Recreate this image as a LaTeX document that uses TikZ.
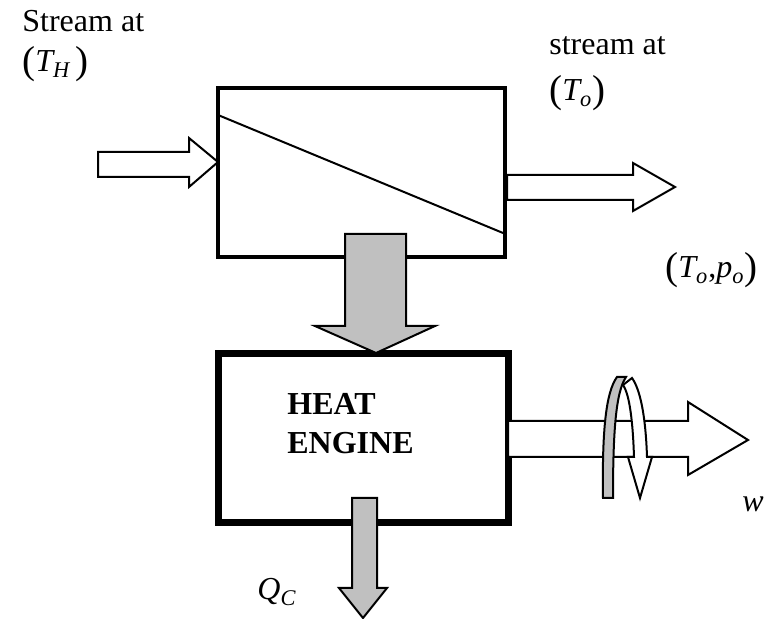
\documentclass[tikz,border=0pt]{standalone}
\usepackage{fontspec}
\setmainfont{Liberation Serif}
\usetikzlibrary{positioning}

\definecolor{heatgray}{RGB}{192,192,192}
\newcommand{\lpar}{{\fontsize{19.5}{19.5}\selectfont\raisebox{-0.6pt}{(}}}
\newcommand{\rpar}{{\fontsize{19.5}{19.5}\selectfont\raisebox{-0.6pt}{)}}}

\begin{document}
\begin{tikzpicture}[x=0.5pt, y=-0.5pt, font=\fontsize{16}{19.5}\selectfont,
 unit/.style={draw, line width=2pt, minimum width=143.5pt, minimum height=84.5pt, inner sep=0pt},
 engine/.style={draw, line width=3.5pt, minimum width=145pt, minimum height=84.5pt, inner sep=0pt},
 flow/.style={draw, line width=1pt, fill=white, line join=miter},
 heat/.style={draw, line width=1pt, fill=heatgray, line join=miter},
 lbl/.style={anchor=base west, inner sep=0pt}]
\useasboundingbox (0,0) rectangle (767,619);

% exchanger and engine
\node[unit] (hx) at (361.5,172.5) {};
\node[engine] (he) at (363,438) {};
\draw[line width=1pt] (218,115) -- (503,233);
\node[anchor=west, inner sep=0pt, align=left, font=\fontsize{16}{19.5}\selectfont\bfseries] (hetext) at (287,424) {HEAT\\ENGINE};

% streams
\draw[flow] (98,152) -- (189,152) -- (189,138) -- (218,162) -- (189,187) -- (189,177) -- (98,177) -- cycle;
\draw[flow] (507,175) -- (633,175) -- (633,163) -- (675,187) -- (633,211) -- (633,200) -- (507,200) -- cycle;

% heat in / heat out
\draw[heat] (345,234) -- (406,234) -- (406,326) -- (435,326) -- (376,353) -- (315,326) -- (345,326) -- cycle;
\draw[heat] (352,498) -- (377,498) -- (377,588) -- (387,588) -- (363,618) -- (339,588) -- (352,588) -- cycle;

% work shaft with turning arrow
\draw[flow] (508,421) -- (688,421) -- (688,402) -- (748,440) -- (688,475) -- (688,457) -- (508,457) -- cycle;
\draw[flow] (632,378) .. controls (642,392) and (646,425) .. (647,457) -- (652,457) -- (640,498)
 -- (628,457) -- (634,457) .. controls (633,425) and (630,395) .. (623,385) -- cycle;
\draw[heat] (603,498) .. controls (602,430) and (606,392) .. (617,377) -- (626,377)
 .. controls (616,392) and (613,430) .. (613,498) -- cycle;

% labels
\node[lbl] (sin) at (22,32) {Stream at};
\node[lbl] (tin) at (22,72) {\lpar$\mathit{T}_{\mathit{H}}$\,\rpar};
\node[lbl] (sout) at (549,55) {stream at};
\node[lbl] (tout) at (549,101) {\lpar$\mathit{T}_{\mathit{o}}$\rpar};
\node[lbl] (dead) at (665,278) {\lpar$\mathit{T}_{\mathit{o}}$,$\mathit{p}_{\mathit{o}}$\rpar};
\node[lbl] (work) at (742,512) {$\mathit{w}$};
\node[lbl] (qc) at (257,600) {$\mathit{Q}_{\mathit{C}}$};
\end{tikzpicture}
\end{document}
